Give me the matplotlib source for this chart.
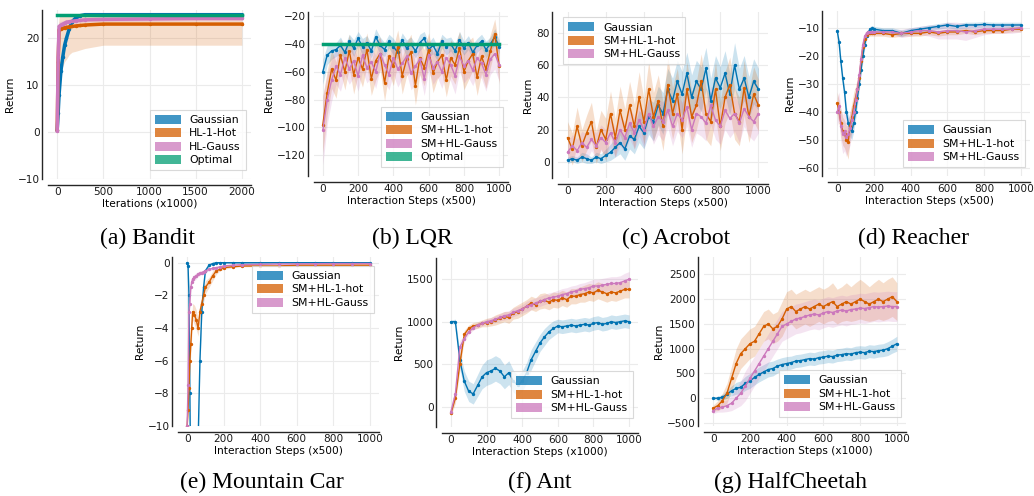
import numpy as np
import matplotlib.pyplot as plt
from matplotlib.patches import Patch

W, H = 1034, 496

c_gauss = '#0173b2'
c_hot = '#d55e00'
c_hlg = '#cc78bc'
c_opt = '#029e73'

# ---------------- (a) Bandit ----------------
bandit_x = [0, 10, 20, 40, 60, 80, 100, 130, 160, 200, 250, 300, 500, 1000, 1500, 2000]
bandit_gauss = [0.5, 4, 8, 13, 16, 18.5, 20, 22, 23.5, 24.3, 24.8, 25, 25, 25, 25, 25]
bandit_gauss_sd = [0.5, 1.5, 2, 2, 1.5, 1.2, 1, 0.8, 0.5, 0.3, 0.2, 0.1, 0.1, 0.1, 0.1, 0.1]
bandit_hot = [0.5, 15, 21.8, 22, 22.1, 22.2, 22.3, 22.4, 22.5, 22.6, 22.7, 22.8, 23, 23, 23, 23]
bandit_hot_lo = [0, 8, 14, 13, 14, 15, 15.5, 16.5, 17, 17.2, 17.5, 17.8, 18.5, 18.5, 18.5, 18.5]
bandit_hot_hi = [1, 22, 24.5, 24.8, 25, 25, 25, 25, 25, 25, 25, 25, 25, 25, 25, 25]
bandit_hlg = [0.3, 16, 22.5, 22.8, 23, 23.2, 23.4, 23.5, 23.6, 23.7, 23.8, 23.9, 24, 24.1, 24.2, 24.2]
bandit_hlg_sd = [0.3, 3, 1, 0.8, 0.7, 0.6, 0.6, 0.5, 0.5, 0.5, 0.5, 0.5, 0.5, 0.5, 0.5, 0.5]
bandit_opt = 25

# ---------------- (b) LQR ----------------
steps25 = list(range(0, 1001, 25))
lqr_gauss = [-60, -48, -45, -44, -41, -46, -38, -43, -36, -42, -39, -45, -35, -41, -44, -38, -42, -46, -37, -43, -40,
             -45, -39, -36, -44, -41, -47, -38, -42, -40, -45, -37, -43, -39, -46, -41, -38, -44, -40, -35, -42]
lqr_gauss_sd = [9, 7, 6, 5, 6, 5, 5, 6, 5, 6, 5, 5, 6, 6, 5, 5, 6, 5, 5, 6, 5,
                5, 6, 5, 5, 6, 5, 5, 6, 5, 5, 6, 5, 5, 6, 5, 5, 6, 5, 6, 5]
lqr_hot = [-98, -75, -58, -66, -48, -60, -45, -62, -50, -58, -44, -65, -52, -47, -68, -49, -56, -42, -63, -51, -46,
           -70, -50, -57, -44, -61, -53, -48, -66, -50, -55, -43, -60, -52, -47, -64, -49, -58, -45, -33, -56]
lqr_hot_sd = [20, 16, 14, 13, 12, 13, 12, 14, 12, 13, 12, 12, 14, 12, 13, 12, 14, 12, 13, 12, 13,
              14, 12, 13, 12, 14, 12, 13, 12, 13, 14, 12, 13, 14, 12, 13, 12, 14, 12, 11, 13]
lqr_hlg = [-102, -80, -66, -56, -62, -50, -58, -52, -63, -48, -57, -53, -60, -47, -55, -62, -50, -58, -54, -49, -61,
           -56, -51, -65, -48, -57, -53, -60, -50, -55, -63, -49, -56, -52, -59, -50, -54, -62, -51, -47, -55]
lqr_hlg_sd = [25, 18, 15, 13, 12, 12, 11, 12, 11, 12, 11, 11, 12, 11, 12, 11, 12, 13, 11, 12, 12,
              13, 11, 12, 11, 12, 11, 12, 11, 12, 13, 11, 12, 12, 11, 12, 11, 12, 11, 11, 12]
lqr_opt = -40

# ---------------- (c) Acrobot ----------------
acro_gauss = [1, 2, 1, 3, 2, 1, 3, 2, 4, 6, 9, 12, 8, 16, 14, 22, 18, 28, 25, 35, 30, 45, 38, 50, 42,
              55, 40, 50, 45, 58, 38, 52, 46, 55, 42, 60, 45, 52, 40, 50, 45]
acro_gauss_sd = [2, 2, 2, 3, 3, 2, 3, 3, 4, 5, 6, 7, 7, 8, 9, 10, 10, 11, 12, 12, 13, 13, 14, 13, 14,
                 13, 14, 13, 14, 13, 14, 14, 13, 14, 13, 14, 13, 14, 13, 14, 13]
acro_hot = [15, 8, 22, 10, 18, 25, 9, 20, 14, 30, 15, 32, 20, 35, 22, 40, 25, 45, 28, 38, 22, 48, 30, 42, 20,
            45, 28, 35, 50, 30, 25, 45, 22, 40, 48, 30, 25, 46, 28, 42, 35]
acro_hot_sd = [10, 10, 12, 10, 11, 12, 10, 12, 13, 14, 12, 15, 13, 15, 14, 16, 14, 17, 15, 16, 15, 17, 16, 16, 15,
               17, 16, 15, 17, 16, 15, 17, 15, 16, 17, 16, 15, 17, 16, 17, 16]
acro_hlg = [6, 10, 7, 12, 9, 14, 10, 15, 12, 18, 12, 20, 15, 24, 18, 26, 20, 30, 22, 28, 25, 32, 22, 30, 26,
            34, 20, 30, 28, 24, 35, 26, 22, 32, 27, 30, 24, 33, 28, 25, 30]
acro_hlg_sd = [6, 7, 7, 7, 8, 7, 8, 8, 8, 9, 9, 10, 9, 10, 10, 10, 11, 10, 11, 11, 12, 11, 12, 11, 11,
               12, 11, 12, 12, 11, 12, 12, 11, 12, 12, 11, 12, 11, 12, 12, 12]

# ---------------- (d) Reacher ----------------
reach_x = [0, 10, 20, 30, 40, 50, 60, 70, 80, 90, 100, 110, 120, 130, 140, 150, 160, 170, 180, 190, 200,
           250, 300, 350, 400, 450, 500, 550, 600, 650, 700, 750, 800, 850, 900, 950, 1000]
reach_gauss = [-11, -15, -22, -28, -33, -40, -44, -46, -47, -44, -40, -35, -30, -25, -20, -16, -13, -11.5, -10.5, -10.2, -10.5,
               -11, -11, -12, -11, -10.5, -10, -9.5, -9, -9.5, -9, -9, -8.8, -9, -9, -9, -9]
reach_gauss_sd = [1, 1, 1.5, 1.5, 2, 2, 3, 3, 3, 3, 3, 3, 2.5, 2, 2, 1.5, 1.5, 1, 1, 1, 1,
                  1, 1, 1.2, 1, 1, 1, 1, 1, 1, 1, 1, 1, 1, 1, 1, 1]
reach_hot = [-37, -40, -44, -47, -48, -50, -51, -45, -42, -38, -35, -32, -28, -22, -17, -14, -12.5, -12, -12, -12, -12,
             -12, -12.5, -12, -12, -12, -11.5, -12, -11.5, -11.5, -11, -11.5, -11, -11, -11, -10.5, -10.5]
reach_hot_sd = [4, 4, 5, 5, 5, 5, 6, 5, 5, 5, 4, 4, 3, 3, 2, 1.5, 1, 1, 1, 1, 1,
                1, 1, 1, 1, 1, 1, 1, 1, 1, 1, 1, 1, 1, 1, 1, 1]
reach_hlg = [-40, -38, -45, -48, -47, -49, -48, -46, -43, -40, -36, -32, -27, -21, -16, -13, -12, -11.5, -11.5, -11.5, -11.5,
             -11.5, -11.5, -12, -11.5, -11, -11, -11.5, -11, -11, -11.5, -11, -10.5, -10.5, -10.5, -10.5, -10]
reach_hlg_sd = [5, 5, 6, 7, 7, 7, 6, 6, 5, 5, 4, 4, 3, 3, 2, 1.5, 1, 1, 1, 1, 1,
                1, 1, 1.5, 1.5, 1.5, 2, 2.5, 3, 3, 3, 2.5, 2, 1.5, 1.5, 1.5, 1.5]

# ---------------- (e) Mountain Car ----------------
mc_x = [0, 5, 10, 15, 20, 25, 30, 40, 50, 60, 70, 80, 90, 100, 120, 140, 160, 180, 200, 250, 300, 400, 500, 600, 700, 800, 900, 1000]
mc_gauss = [0, -0.2, -2, -8, -14, -16, -16, -16, -15, -11, -6, -3, -1.5, -0.5, -0.15, -0.05, 0, 0, 0, 0, 0, 0, 0, 0, 0, 0, 0, 0]
mc_gauss_sd = [0.1, 0.2, 0.4, 0.5, 0.5, 0.5, 0.5, 0.5, 0.5, 0.5, 0.5, 0.4, 0.3, 0.2, 0.1, 0.05, 0.05, 0.05, 0.05,
               0.05, 0.05, 0.05, 0.05, 0.05, 0.05, 0.05, 0.05, 0.05]
mc_hot = [-10, -9, -7.7, -6, -5, -4, -3, -3.2, -3.5, -4, -3, -2.5, -2, -1.5, -1.2, -0.8, -0.5, -0.4, -0.3, -0.25,
          -0.2, -0.2, -0.2, -0.15, -0.15, -0.15, -0.15, -0.15]
mc_hot_sd = [0.3, 0.4, 0.5, 0.6, 0.6, 0.6, 0.5, 0.6, 0.6, 0.5, 0.5, 0.5, 0.4, 0.4, 0.3, 0.3, 0.2, 0.1, 0.1, 0.05,
             0.05, 0.05, 0.05, 0.05, 0.05, 0.05, 0.05, 0.05]
mc_hlg = [-10, -7.5, -3, -2.5, -1.5, -1.2, -1.0, -0.9, -0.8, -0.7, -0.65, -0.6, -0.55, -0.5, -0.4, -0.35, -0.3,
          -0.25, -0.2, -0.15, -0.12, -0.1, -0.08, -0.07, -0.06, -0.05, -0.05, -0.05]
mc_hlg_sd = [0.3, 0.5, 0.4, 0.3, 0.3, 0.2, 0.2, 0.2, 0.2, 0.15, 0.15, 0.1, 0.1, 0.1, 0.1, 0.1, 0.05, 0.05, 0.05,
             0.05, 0.05, 0.05, 0.05, 0.05, 0.05, 0.05, 0.05, 0.05]

# ---------------- (f) Ant ----------------
ant_gauss = [1000, 1000, 550, 300, 180, 150, 250, 350, 400, 420, 450, 420, 350, 400, 300, 250, 300, 400, 550, 650,
             750, 820, 880, 920, 950, 940, 950, 960, 950, 960, 970, 960, 980, 990, 970, 980, 1000, 990, 1000, 1010, 1000]
ant_gauss_sd = [20, 30, 100, 120, 120, 120, 130, 140, 150, 150, 150, 150, 140, 140, 130, 120, 120, 120, 120, 110,
                100, 100, 90, 90, 80, 80, 80, 80, 80, 80, 80, 80, 80, 80, 80, 80, 80, 80, 80, 80, 80]
ant_hot = [-80, 100, 500, 850, 920, 950, 960, 980, 990, 1000, 1020, 1040, 1060, 1050, 1100, 1120, 1150, 1180, 1220, 1200,
           1240, 1250, 1230, 1260, 1250, 1280, 1260, 1300, 1300, 1320, 1330, 1350, 1340, 1370, 1350, 1330, 1350, 1340, 1360, 1380, 1380]
ant_hot_sd = [30, 60, 80, 50, 40, 40, 40, 40, 50, 50, 60, 60, 60, 70, 70, 80, 80, 80, 80, 80,
              90, 90, 90, 90, 90, 90, 90, 90, 90, 90, 100, 100, 100, 100, 100, 100, 100, 100, 100, 100, 100]
ant_hlg = [-60, 150, 700, 800, 880, 930, 960, 980, 1000, 1010, 1030, 1050, 1070, 1080, 1110, 1130, 1150, 1180, 1200, 1220,
           1240, 1260, 1280, 1290, 1300, 1320, 1330, 1350, 1360, 1380, 1390, 1400, 1420, 1420, 1430, 1440, 1450, 1450, 1460, 1480, 1500]
ant_hlg_sd = [30, 60, 80, 40, 30, 30, 30, 30, 30, 40, 40, 40, 50, 50, 50, 50, 50, 60, 60, 60,
              60, 60, 60, 60, 70, 70, 70, 70, 70, 70, 70, 80, 80, 80, 80, 80, 80, 80, 80, 90, 90]

# ---------------- (g) HalfCheetah ----------------
hc_gauss = [0, 0, 20, 80, 150, 200, 220, 300, 350, 420, 480, 530, 580, 600, 650, 680, 700, 720, 750, 760,
            780, 800, 790, 820, 830, 850, 840, 870, 880, 900, 890, 920, 930, 920, 950, 940, 960, 970, 1000, 1050, 1100]
hc_gauss_sd = [20, 40, 60, 80, 100, 120, 130, 140, 150, 150, 150, 150, 150, 150, 140, 140, 140, 130, 130, 130,
               130, 130, 130, 130, 130, 130, 130, 130, 130, 130, 130, 130, 130, 130, 130, 130, 130, 130, 140, 140, 150]
hc_hot = [-200, -150, -50, 100, 400, 700, 900, 1000, 1100, 1150, 1300, 1450, 1500, 1400, 1450, 1600, 1800, 1850, 1750, 1800,
          1850, 1800, 1850, 1900, 1850, 1900, 1950, 1850, 1900, 1950, 1900, 1950, 2000, 1950, 1900, 1950, 2000, 1950, 2000, 2050, 1950]
hc_hot_sd = [60, 100, 150, 200, 250, 300, 300, 300, 300, 300, 300, 300, 300, 300, 300, 350, 350, 350, 350, 350,
             350, 350, 350, 350, 350, 350, 380, 350, 350, 380, 350, 380, 400, 380, 350, 380, 400, 380, 400, 400, 380]
hc_hlg = [-250, -200, -180, -150, -100, 0, 100, 250, 400, 550, 700, 850, 1000, 1150, 1300, 1450, 1500, 1550, 1600, 1620,
          1650, 1680, 1700, 1680, 1720, 1750, 1730, 1760, 1780, 1760, 1790, 1800, 1820, 1810, 1830, 1850, 1840, 1850, 1860, 1850, 1850]
hc_hlg_sd = [60, 80, 100, 120, 150, 200, 250, 300, 300, 300, 300, 300, 300, 300, 300, 300, 300, 300, 300, 300,
             300, 300, 300, 300, 300, 300, 300, 300, 300, 300, 300, 300, 300, 300, 300, 300, 300, 300, 300, 300, 300]

plt.rcParams['font.family'] = 'DejaVu Sans'
plt.rcParams['axes.edgecolor'] = '#262626'

fig = plt.figure(figsize=(W / 100, H / 100), dpi=100)


def make_axes(x0, x1, y0, y1):
    # pixel box -> figure coords (y measured from the top)
    ax = fig.add_axes([x0 / W, 1 - y1 / H, (x1 - x0) / W, (y1 - y0) / H])
    for s in ['top', 'right']:
        ax.spines[s].set_visible(False)
    ax.spines['left'].set_position(('outward', 4))
    ax.spines['bottom'].set_position(('outward', 4))
    ax.spines['left'].set_linewidth(1.0)
    ax.spines['bottom'].set_linewidth(1.0)
    ax.grid(True, color='#ebebeb', linewidth=0.8)
    ax.set_axisbelow(True)
    ax.tick_params(length=0, labelsize=7.6, pad=2, colors='#1a1a1a')
    ax.set_ylabel('Return', fontsize=7.6, labelpad=2)
    return ax


def curve(ax, x, m, sd=None, color='k', lo=None, hi=None, lw=1.0, ms=2.8):
    x = np.asarray(x, float)
    m = np.asarray(m, float)
    if lo is None:
        lo = m - np.asarray(sd, float)
        hi = m + np.asarray(sd, float)
    ax.fill_between(x, lo, hi, color=color, alpha=0.2, linewidth=0)
    ax.plot(x, m, color=color, lw=lw, marker='.', ms=ms)


def legend(ax, labels, colors, loc, anchor=None):
    handles = [Patch(facecolor=c, alpha=0.75, edgecolor='none') for c in colors]
    kw = dict(loc=loc, fontsize=7.8, frameon=True, handlelength=2.4, handleheight=0.9,
              borderpad=0.45, labelspacing=0.3, handletextpad=0.8, fancybox=False)
    if anchor is not None:
        kw['bbox_to_anchor'] = anchor
    lg = ax.legend(handles, labels, **kw)
    lg.get_frame().set_edgecolor('#d0d0d0')
    lg.get_frame().set_linewidth(0.8)


def caption(x, y, s):
    fig.text(x / W, 1 - y / H, s, ha='center', va='center', fontsize=17, family='Liberation Serif')


three = ['Gaussian', 'SM+HL-1-hot', 'SM+HL-Gauss']
three_c = [c_gauss, c_hot, c_hlg]
four_c = [c_gauss, c_hot, c_hlg, c_opt]

# (a)
ax = make_axes(48, 251, 10, 179)
curve(ax, bandit_x, bandit_gauss, bandit_gauss_sd, c_gauss, lw=2.5, ms=3)
curve(ax, bandit_x, bandit_hot, color=c_hot, lo=bandit_hot_lo, hi=bandit_hot_hi, lw=2.5, ms=3)
curve(ax, bandit_x, bandit_hlg, bandit_hlg_sd, c_hlg, lw=2.5, ms=3)
ax.plot([bandit_x[0], bandit_x[-1]], [bandit_opt, bandit_opt], color=c_opt, lw=2.5)
ax.set_xlim(-100, 2100)
ax.set_ylim(-10, 26)
ax.set_xticks([0, 500, 1000, 1500, 2000])
ax.set_yticks([-10, 0, 10, 20])
ax.set_xlabel('Iterations (x1000)', fontsize=7.6, labelpad=1)
legend(ax, ['Gaussian', 'HL-1-Hot', 'HL-Gauss', 'Optimal'], four_c, 'lower right', (1.0, 0.02))
caption(148, 238, '(a) Bandit')

# (b)
ax = make_axes(314, 508, 12, 176)
curve(ax, steps25, lqr_gauss, lqr_gauss_sd, c_gauss)
curve(ax, steps25, lqr_hot, lqr_hot_sd, c_hot)
curve(ax, steps25, lqr_hlg, lqr_hlg_sd, c_hlg)
ax.plot([steps25[0], steps25[-1]], [lqr_opt, lqr_opt], color=c_opt, lw=2.5)
ax.set_xlim(-50, 1050)
ax.set_ylim(-135, -17)
ax.set_xticks(range(0, 1001, 200))
ax.set_yticks(range(-120, -19, 20))
ax.set_xlabel('Interaction Steps (x500)', fontsize=7.6, labelpad=1)
legend(ax, ['Gaussian', 'SM+HL-1-hot', 'SM+HL-Gauss', 'Optimal'], four_c, 'lower right', (1.0, 0.02))
caption(412, 238, '(b) LQR')

# (c)
ax = make_axes(558, 768, 12, 178)
curve(ax, steps25, acro_gauss, acro_gauss_sd, c_gauss)
curve(ax, steps25, acro_hot, acro_hot_sd, c_hot)
curve(ax, steps25, acro_hlg, acro_hlg_sd, c_hlg)
ax.set_xlim(-50, 1050)
ax.set_ylim(-10, 93)
ax.set_xticks(range(0, 1001, 200))
ax.set_yticks(range(0, 81, 20))
ax.set_xlabel('Interaction Steps (x500)', fontsize=7.6, labelpad=1)
legend(ax, three, three_c, 'upper left', (0.0, 1.0))
caption(676, 238, '(c) Acrobot')

# (d)
ax = make_axes(828, 1030, 11, 176)
curve(ax, reach_x, reach_gauss, reach_gauss_sd, c_gauss)
curve(ax, reach_x, reach_hot, reach_hot_sd, c_hot)
curve(ax, reach_x, reach_hlg, reach_hlg_sd, c_hlg)
ax.set_xlim(-50, 1050)
ax.set_ylim(-63, -4)
ax.set_xticks(range(0, 1001, 200))
ax.set_yticks(range(-60, -9, 10))
ax.set_xlabel('Interaction Steps (x500)', fontsize=7.6, labelpad=1)
legend(ax, three, three_c, 'lower right', (1.0, 0.02))
caption(913, 238, '(d) Reacher')

# (e)
ax = make_axes(178, 379, 257, 426)
curve(ax, mc_x, mc_gauss, mc_gauss_sd, c_gauss)
curve(ax, mc_x, mc_hot, mc_hot_sd, c_hot)
curve(ax, mc_x, mc_hlg, mc_hlg_sd, c_hlg)
ax.set_xlim(-50, 1050)
ax.set_ylim(-10, 0.35)
ax.set_xticks(range(0, 1001, 200))
ax.set_yticks(range(-10, 1, 2))
ax.set_xlabel('Interaction Steps (x500)', fontsize=7.6, labelpad=1)
legend(ax, three, three_c, 'upper right', (1.0, 0.98))
caption(262, 482, '(e) Mountain Car')

# (f)
ax = make_axes(442, 638, 258, 427)
curve(ax, steps25, ant_gauss, ant_gauss_sd, c_gauss)
curve(ax, steps25, ant_hot, ant_hot_sd, c_hot)
curve(ax, steps25, ant_hlg, ant_hlg_sd, c_hlg)
ax.set_xlim(-50, 1050)
ax.set_ylim(-240, 1750)
ax.set_xticks(range(0, 1001, 200))
ax.set_yticks(range(0, 1501, 500))
ax.set_xlabel('Interaction Steps (x1000)', fontsize=7.6, labelpad=1)
legend(ax, three, three_c, 'lower right', (1.0, 0.02))
caption(540, 482, '(f) Ant')

# (g)
ax = make_axes(704, 906, 257, 426)
curve(ax, steps25, hc_gauss, hc_gauss_sd, c_gauss)
curve(ax, steps25, hc_hot, hc_hot_sd, c_hot)
curve(ax, steps25, hc_hlg, hc_hlg_sd, c_hlg)
ax.set_xlim(-50, 1050)
ax.set_ylim(-560, 2850)
ax.set_xticks(range(0, 1001, 200))
ax.set_yticks(range(-500, 2501, 500))
ax.set_xlabel('Interaction Steps (x1000)', fontsize=7.6, labelpad=1)
legend(ax, three, three_c, 'lower right', (1.0, 0.02))
caption(790, 482, '(g) HalfCheetah')

fig.savefig('out.png', dpi=100)
